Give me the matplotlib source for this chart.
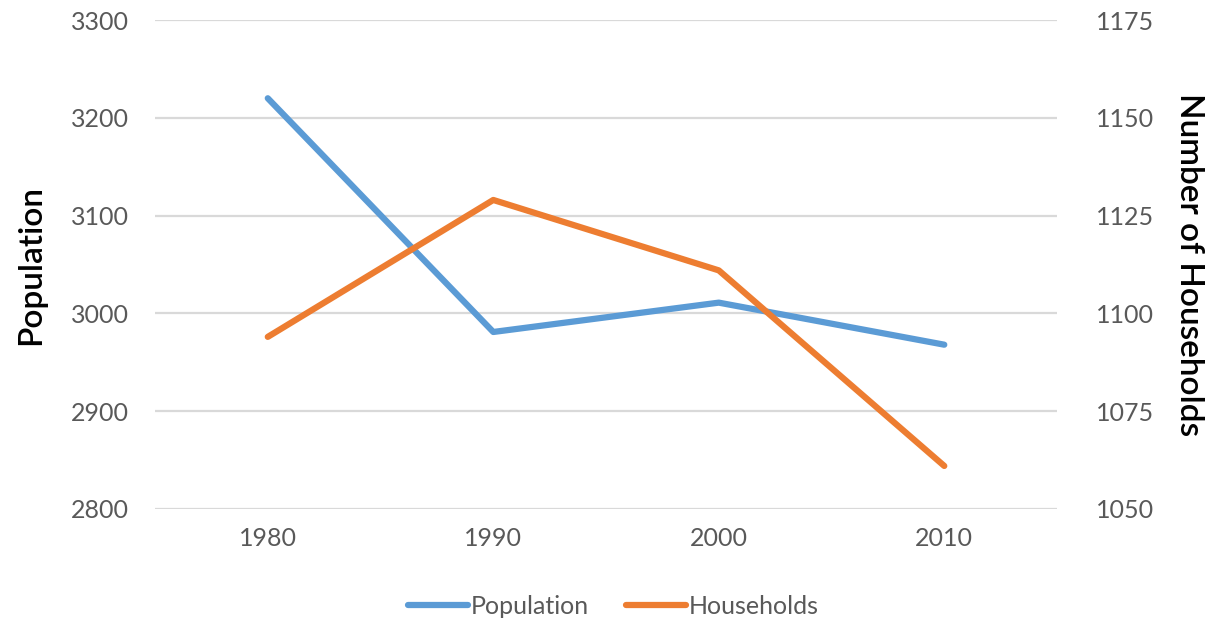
import matplotlib.pyplot as plt
from matplotlib.ticker import FixedLocator

years = ["1980", "1990", "2000", "2010"]
population = [3220, 2981, 3011, 2968]
households = [1094, 1129, 1111, 1061]
pop_ticks = [2800, 2900, 3000, 3100, 3200, 3300]
hh_ticks = [1050, 1075, 1100, 1125, 1150, 1175]

plt.rcParams['font.family'] = ['Lato', 'DejaVu Sans']

blue = '#5B9BD5'
orange = '#ED7D31'
grey = '#595959'

fig = plt.figure(figsize=(12.14, 6.22), dpi=100)
ax = fig.add_axes([0.1277, 0.1817, 0.743, 0.7861])
ax2 = ax.twinx()

x = range(len(years))
l1, = ax.plot(x, population, color=blue, lw=4.5, solid_capstyle='round',
              solid_joinstyle='round', label='Population', zorder=3)
l2, = ax2.plot(x, households, color=orange, lw=4.5, solid_capstyle='round',
               solid_joinstyle='round', label='Households', zorder=3)

ax.set_xlim(-0.5, 3.5)
ax.set_ylim(2800, 3300)
ax2.set_ylim(1050, 1175)
ax.yaxis.set_major_locator(FixedLocator(pop_ticks))
ax2.yaxis.set_major_locator(FixedLocator(hh_ticks))
ax.set_xticks(list(x))
ax.set_xticklabels(years)

ax.grid(axis='y', color='#d9d9d9', lw=1.6)
ax.set_axisbelow(True)
for a in (ax, ax2):
    for s in a.spines.values():
        s.set_visible(False)
    a.tick_params(length=0, labelsize=18, labelcolor=grey)
ax.tick_params(axis='y', pad=19)
ax2.tick_params(axis='y', pad=28)
ax.tick_params(axis='x', pad=13)

ax.set_ylabel('Population', fontsize=24, color='black', labelpad=18,
              fontweight='semibold')
ax2.set_ylabel('Number of Households', fontsize=24, color='black',
               rotation=-90, labelpad=36, fontweight='semibold')

fig.legend(handles=[l1, l2], loc='center', bbox_to_anchor=(0.505, 0.025),
           ncol=2, frameon=False, fontsize=18, handlelength=2.4,
           handletextpad=0.1, columnspacing=1.5, labelcolor=grey)

fig.savefig('out.png', dpi=100)
